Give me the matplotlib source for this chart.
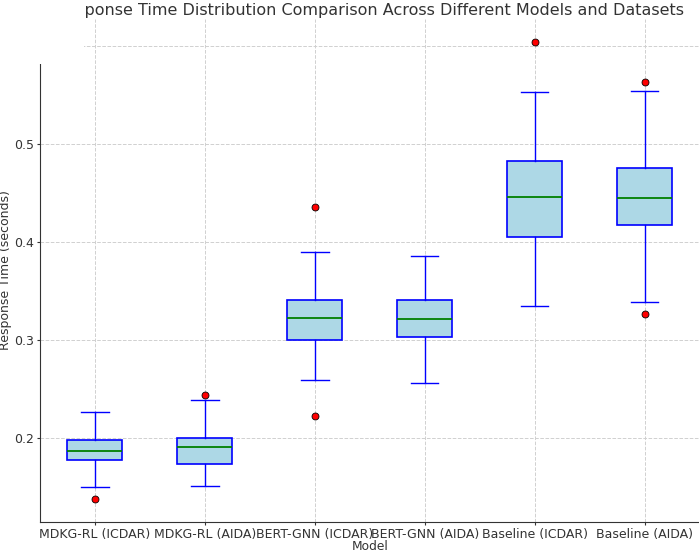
import numpy as np
import matplotlib.pyplot as plt
from matplotlib.patches import Rectangle

# values
models = ['MDKG-RL (ICDAR)', 'MDKG-RL (AIDA)', 'BERT-GNN (ICDAR)',
          'BERT-GNN (AIDA)', 'Baseline (ICDAR)', 'Baseline (AIDA)']
whislo = [0.150, 0.1514, 0.2591, 0.2563, 0.3347, 0.3391]
q1 = [0.1779, 0.1741, 0.3004, 0.3032, 0.4053, 0.4172]
med = [0.1874, 0.1915, 0.3225, 0.3215, 0.4460, 0.4444]
q3 = [0.1980, 0.2003, 0.3411, 0.3405, 0.4820, 0.4753]
whishi = [0.2268, 0.2393, 0.3894, 0.3856, 0.5530, 0.5537]
fliers = [[0.1379], [0.2444], [0.4355, 0.2224], [], [0.6039], [0.5631, 0.3263]]

stats = []
for i, name in enumerate(models):
    stats.append({'label': name, 'whislo': whislo[i], 'q1': q1[i], 'med': med[i],
                  'q3': q3[i], 'whishi': whishi[i], 'fliers': np.array(fliers[i])})

fig = plt.figure(figsize=(6.99, 5.52), dpi=100)
ax = fig.add_axes([40/699, 30/552, 659.5/699, 503/552])

ax.bxp(stats, patch_artist=True, widths=0.5,
       boxprops=dict(facecolor='lightblue', edgecolor='blue', linewidth=1.2),
       medianprops=dict(color='green', linewidth=1.3),
       whiskerprops=dict(color='blue', linewidth=1.0),
       capprops=dict(color='blue', linewidth=1.0),
       flierprops=dict(marker='o', markerfacecolor='red', markeredgecolor='black',
                       markersize=5, markeredgewidth=0.6))

ax.set_xlim(0.5, 6.5)
ax.set_ylim(0.1146, 0.6272)
ax.set_yticks([0.2, 0.3, 0.4, 0.5, 0.6])
ax.tick_params(labelsize=9, length=2.5, pad=1.5, colors='#333333')
ax.set_title('Response Time Distribution Comparison Across Different Models and Datasets',
             fontsize=11.5, color='#333333', pad=3)
ax.set_xlabel('Model', fontsize=8.8, labelpad=-0.5, color='#333333')
ax.set_ylabel('Response Time (seconds)', fontsize=9, labelpad=2, color='#333333')
ax.grid(True, linestyle='--', color='#d0d0d0', linewidth=0.7)
ax.set_axisbelow(True)
ax.spines['top'].set_visible(False)
ax.spines['right'].set_visible(False)
ax.spines['left'].set_color('#333333')
ax.spines['bottom'].set_color('#333333')

# white patch in the top-left corner, as in the reference
fig.patches.append(Rectangle((0, 1 - 64/552), 84/699, 64/552, transform=fig.transFigure,
                             facecolor='white', edgecolor='none', zorder=10))

fig.savefig('out.png', dpi=100)
